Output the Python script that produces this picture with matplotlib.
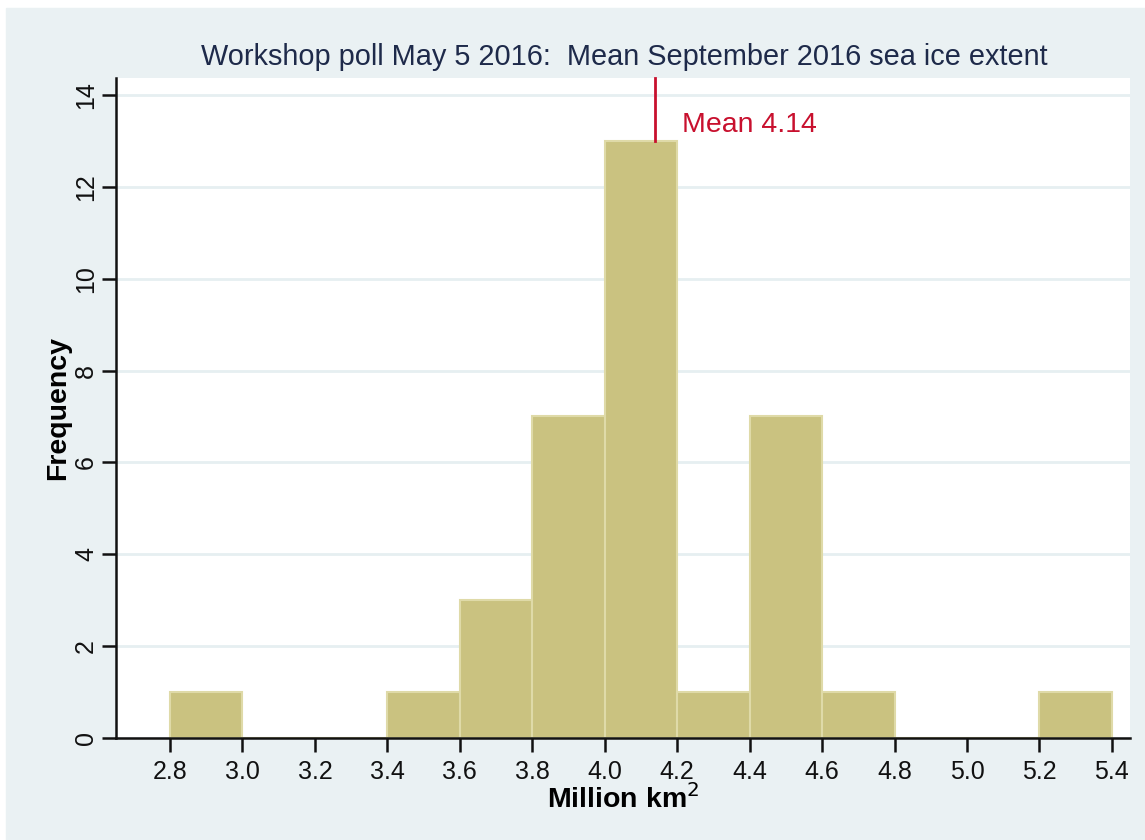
import numpy as np
import matplotlib
matplotlib.use("Agg")
import matplotlib.pyplot as plt

plt.rcParams['font.family'] = ['Liberation Sans', 'DejaVu Sans']

# histogram bins (million km2) and counts
bin_edges = [2.8, 3.0, 3.2, 3.4, 3.6, 3.8, 4.0, 4.2, 4.4, 4.6, 4.8, 5.0, 5.2, 5.4]
counts = [1, 0, 0, 1, 3, 7, 13, 1, 7, 1, 0, 0, 1]
mean_val = 4.14
xticks = [2.8, 3.0, 3.2, 3.4, 3.6, 3.8, 4.0, 4.2, 4.4, 4.6, 4.8, 5.0, 5.2, 5.4]
yticks = [0, 2, 4, 6, 8, 10, 12, 14]

bg = '#EAF1F3'
fig = plt.figure(figsize=(11.45, 8.4), dpi=100)
# outer light panel with a thin white border like the screenshot
fig.patches.append(plt.Rectangle((6/1145, 0), 1 - 6/1145, 1 - 8/840,
                                 transform=fig.transFigure, color=bg, zorder=-10))
ax = fig.add_axes([116/1145, 1 - 738/840, (1130-116)/1145, (738-78)/840])
ax.set_facecolor('white')

widths = np.diff(bin_edges)
ax.bar(bin_edges[:-1], counts, width=widths, align='edge', color='#CAC280',
       edgecolor='#DFDAA8', linewidth=1.5, zorder=2)

ax.set_xlim(2.651, 5.45)
ax.set_ylim(0, 14.37)
ax.set_xticks(xticks)
ax.set_xticklabels(['%.1f' % t for t in xticks])
ax.set_yticks(yticks)
ax.set_yticklabels([str(t) for t in yticks], rotation=90, va='center')
ax.yaxis.grid(True, color='#E6EFF1', linewidth=2, zorder=0)
ax.set_axisbelow(True)

for s in ['top', 'right']:
    ax.spines[s].set_visible(False)
for s in ['left', 'bottom']:
    ax.spines[s].set_linewidth(1.8)
    ax.spines[s].set_color('#111111')
ax.tick_params(axis='both', direction='out', length=10, width=1.8,
               labelsize=18, colors='#111111', pad=6)
ax.tick_params(axis='y', pad=3)

# mean marker
ax.plot([mean_val, mean_val], [13, 14.37], color='#C8102E', linewidth=2,
        zorder=3, clip_on=False)
ax.text(mean_val + 0.073, 13.35, 'Mean 4.14', color='#C8102E', fontsize=20.5,
        va='center', ha='left')

ax.set_xlabel('Million km$^2$', fontsize=20.5, fontweight='bold', labelpad=0)
ax.set_ylabel('Frequency', fontsize=20.5, fontweight='bold', labelpad=2)
fig.text(0.545, 1 - 57/840,
         'Workshop poll May 5 2016:  Mean September 2016 sea ice extent',
         ha='center', va='center', fontsize=20.8, color='#1E2A4A')

fig.savefig('out.png', dpi=100, facecolor='white')
